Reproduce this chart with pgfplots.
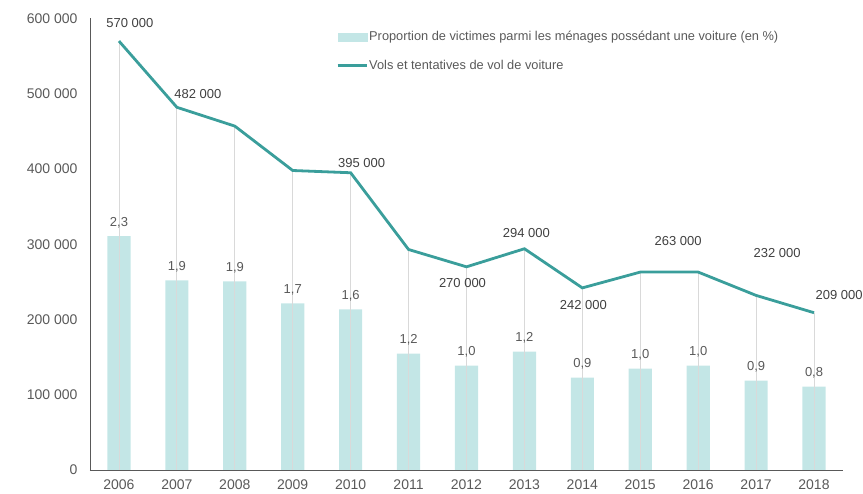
\documentclass[border=0pt]{standalone}
\usepackage{pgfplots}
\pgfplotsset{compat=1.18}
\usepackage{pgfplotstable}
\usepackage{fontspec}
\setmainfont{Liberation Sans}
\definecolor{barcol}{HTML}{C3E6E6}
\definecolor{linecol}{HTML}{3A9E9B}
\definecolor{txtgray}{HTML}{595959}
\definecolor{lblgray}{HTML}{404040}
\definecolor{dropgray}{HTML}{D9D9D9}

\pgfplotstableread{
year prop
2006 2.33
2007 1.89
2008 1.88
2009 1.66
2010 1.60
2011 1.16
2012 1.04
2013 1.18
2014 0.92
2015 1.01
2016 1.04
2017 0.89
2018 0.83
}\proptable

\pgfplotstableread{
year vols
2006 570000
2007 482000
2008 457000
2009 398000
2010 395000
2011 293000
2012 270000
2013 294000
2014 242000
2015 263000
2016 263000
2017 232000
2018 209000
}\volstable

\pgfplotstableread{
year vols dx dy
2006 570000 11 18
2007 482000 21 13
2010 395000 11 10
2012 270000 -4 -16
2013 294000 2 16
2014 242000 1 -17
2016 263000 -20 31
2017 232000 21 42
2018 209000 25 18
}\vollabels

\pgfplotsset{
  baraxis/.style={
    at={(0,0)}, anchor=south west,
    width=753pt, height=451.5pt, scale only axis,
    xmin=2005.5, xmax=2018.5, ymin=0, ymax=4.5,
    axis lines=none, xtick=\empty, ytick=\empty,
    clip=false,
  }
}

\begin{document}
\begin{tikzpicture}
\useasboundingbox (-90pt,-24pt) rectangle (773pt,470pt);
% bars (secondary hidden axis)
\begin{axis}[baraxis]
\addplot[ybar, bar width=0.4, fill=barcol, draw=none] table[x=year, y=prop] {\proptable};
\end{axis}
% main axis
\begin{axis}[
  at={(0,0)}, anchor=south west,
  width=753pt, height=451.5pt, scale only axis,
  xmin=2005.5, xmax=2018.5, ymin=0, ymax=600000,
  axis x line=bottom, axis y line=left,
  axis line style={-, draw=txtgray, line width=0.9pt},
  major tick length=0pt,
  ytick={0,100000,200000,300000,400000,500000,600000},
  yticklabels={0,100 000,200 000,300 000,400 000,500 000,600 000},
  xtick={2006,...,2018},
  xticklabels={2006,2007,2008,2009,2010,2011,2012,2013,2014,2015,2016,2017,2018},
  ticklabel style={font=\fontsize{14}{16}\selectfont, text=txtgray},
  yticklabel style={xshift=-9pt},
  xticklabel style={yshift=-6pt},
  scaled y ticks=false,
  clip=false,
  legend style={draw=none, fill=none, at={(0.3267,0.974)}, anchor=north west,
    font=\fontsize{12.8}{15}\selectfont, text=txtgray, legend cell align=left,
    row sep=16pt, inner sep=0pt, nodes={inner sep=1pt}},
]
\addlegendimage{legend image code/.code={\fill[barcol] (0pt,-4pt) rectangle (29pt,4pt);}}
\addlegendentry{Proportion de victimes parmi les ménages possédant une voiture (en \%)}
\addplot[ycomb, draw=dropgray, line width=0.8pt, mark=none, forget plot] table[x=year, y=vols] {\volstable};
\addplot[linecol, line width=2.8pt, mark=none,
  legend image code/.code={\draw[linecol, line width=3pt] (0pt,0pt) -- (29pt,0pt);}]
  table[x=year, y=vols] {\volstable};
\addlegendentry{Vols et tentatives de vol de voiture}
\addplot[draw=none, mark=none, forget plot,
  visualization depends on={\thisrow{dx} \as \mydx},
  visualization depends on={\thisrow{dy} \as \mydy},
  nodes near coords,
  nodes near coords style={font=\fontsize{13}{15}\selectfont, text=lblgray, anchor=center, inner sep=0pt,
    xshift=\mydx pt, yshift=\mydy pt,
    /pgf/number format/.cd, fixed, precision=0, 1000 sep={\ }, assume math mode=true},
] table[x=year, y=vols] {\vollabels};
\end{axis}
% bar labels on top
\begin{axis}[baraxis]
\addplot[ybar, bar width=0.4, fill=none, draw=none,
  nodes near coords,
  nodes near coords style={font=\fontsize{13}{15}\selectfont, text=txtgray, anchor=base, yshift=10pt, inner sep=0pt,
    /pgf/number format/.cd, fixed, fixed zerofill, precision=1, use comma, assume math mode=true},
] table[x=year, y=prop] {\proptable};
\end{axis}
\end{tikzpicture}
\end{document}
